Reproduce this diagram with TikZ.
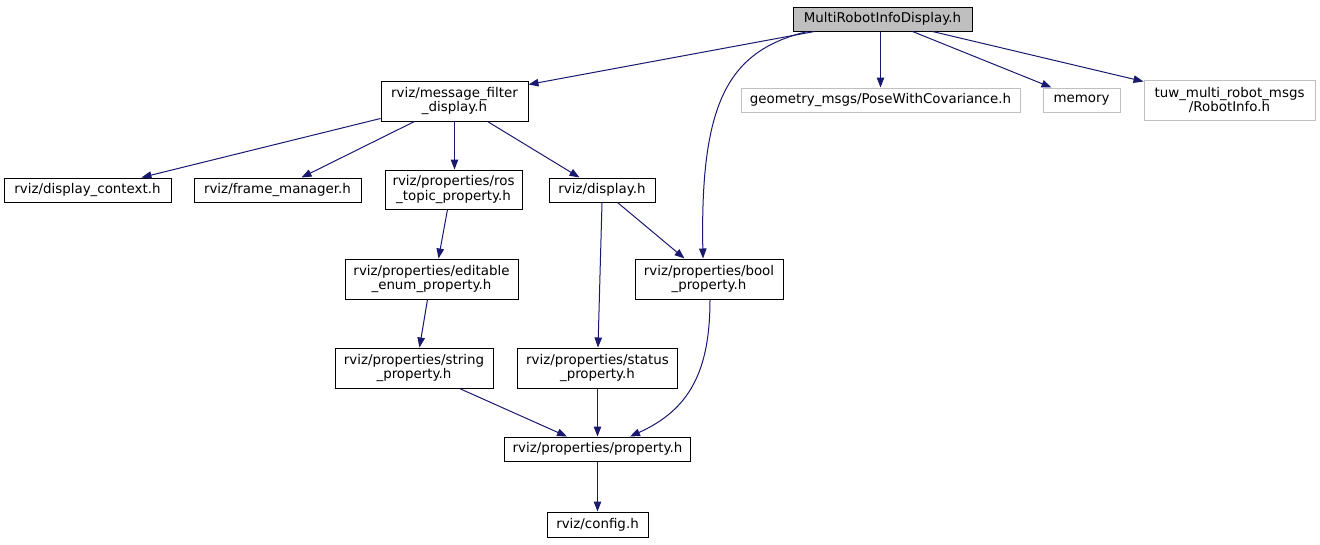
\documentclass[tikz,border=0pt]{standalone}
\usepackage{fontspec}
\setmainfont{DejaVu Sans}
\usetikzlibrary{arrows.meta,calc}
\definecolor{edgeblue}{HTML}{191970}
\definecolor{graybox}{HTML}{BFBFBF}
\begin{document}
\begin{tikzpicture}[x=1pt,y=-1pt,
  box/.style={draw=black,line width=1pt,fill=white,inner sep=0pt,align=center,font=\fontsize{13.4}{14.5}\selectfont},
  grayb/.style={box,draw=graybox},
  edge/.style={draw=edgeblue,line width=1pt,-{Triangle[length=10pt,width=7.5pt]}}]
\useasboundingbox[fill=white] (0,0) rectangle (1320,544);
\node[box,fill=graybox,minimum width=179pt,minimum height=24pt] (top) at (882.5,19) {MultiRobotInfoDisplay.h};
\node[box,minimum width=147pt,minimum height=40pt] (mfd) at (454.5,101) {rviz/message\_filter\\\_display.h};
\node[grayb,minimum width=279pt,minimum height=24pt] (geom) at (880.5,100) {geometry\_msgs/PoseWithCovariance.h};
\node[grayb,minimum width=77pt,minimum height=24pt] (memory) at (1081.5,100) {memory};
\node[grayb,minimum width=171pt,minimum height=40pt] (tuw) at (1229.5,100) {tuw\_multi\_robot\_msgs\\/RobotInfo.h};
\node[box,minimum width=167pt,minimum height=24pt] (dctx) at (87.5,190) {rviz/display\_context.h};
\node[box,minimum width=167pt,minimum height=24pt] (fm) at (277.5,190) {rviz/frame\_manager.h};
\node[box,minimum width=137pt,minimum height=39pt] (ros) at (453.5,189.5) {rviz/properties/ros\\\_topic\_property.h};
\node[box,minimum width=106pt,minimum height=24pt] (disp) at (602,190) {rviz/display.h};
\node[box,minimum width=173pt,minimum height=40pt] (edit) at (431.5,279) {rviz/properties/editable\\\_enum\_property.h};
\node[box,minimum width=148pt,minimum height=40pt] (bool) at (709,279) {rviz/properties/bool\\\_property.h};
\node[box,minimum width=158pt,minimum height=40pt] (string) at (414,368) {rviz/properties/string\\\_property.h};
\node[box,minimum width=160pt,minimum height=40pt] (status) at (597.5,368) {rviz/properties/status\\\_property.h};
\node[box,minimum width=186pt,minimum height=24pt] (prop) at (597.5,449) {rviz/properties/property.h};
\node[box,minimum width=101pt,minimum height=25pt] (config) at (597.5,524.5) {rviz/config.h};

\draw[edge] ($(top.south west)+(22,0)$) -- ($(mfd.north east)+(0,4)$);
\draw[edge] (top.south -| geom.north) -- (geom.north);
\draw[edge] ($(top.south west)+(120,0)$) -- ($(memory.north west)+(9,0)$);
\draw[edge] ($(top.south west)+(140,0)$) -- ($(tuw.north west)+(0,2)$);
\draw[edge] ($(top.south west)+(15,0)$) .. controls +(-78,19) and +(-3,-159) .. ($(bool.north)+(-6,0)$);
\draw[edge] ($(mfd.south west)+(0,-3)$) -- ($(dctx.north west)+(138,0)$);
\draw[edge] ($(mfd.south west)+(34,0)$) -- ($(fm.north west)+(108,0)$);
\draw[edge] (mfd.south) -- (mfd.south |- ros.north);
\draw[edge] ($(mfd.south west)+(107,0)$) -- ($(disp.north west)+(31,0)$);
\draw[edge] ($(ros.south west)+(63,0)$) -- ($(edit.north west)+(94,0)$);
\draw[edge] ($(edit.south west)+(83,0)$) -- ($(string.north west)+(85,0)$);
\draw[edge] (disp.south) -- ($(status.north)+(0.5,0)$);
\draw[edge] ($(disp.south west)+(69,0)$) -- ($(bool.north west)+(50,0)$);
\draw[edge] ($(string.south west)+(125,0)$) -- ($(prop.north west)+(63,0)$);
\draw[edge] (status.south) -- (status.south |- prop.north);
\draw[edge] ($(bool.south)+(1,0)$) .. controls +(0,71) and +(60,-27) .. ($(prop.north west)+(126,0)$);
\draw[edge] (prop.south) -- (prop.south |- config.north);
\end{tikzpicture}
\end{document}
